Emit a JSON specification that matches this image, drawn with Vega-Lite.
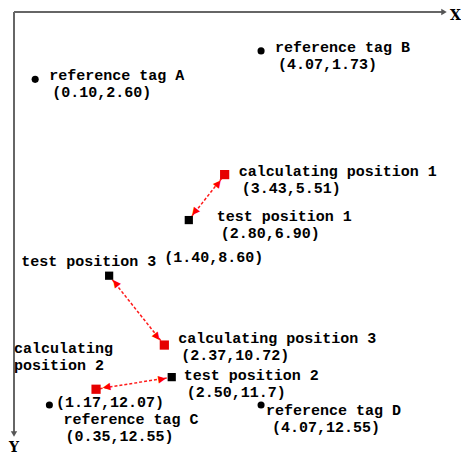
{
  "$schema": "https://vega.github.io/schema/vega-lite/v6.json",
  "width": 430,
  "height": 422,
  "autosize": {"type": "none"},
  "padding": {"left": 14, "top": 12, "right": 17, "bottom": 25},
  "background": "white",
  "config": {"view": {"stroke": null}},
  "datasets": {
    "points": [
      {"id": "A", "name": "reference tag A", "coord": "(0.10,2.60)", "type": "reference", "x": 0.10, "y": 2.60},
      {"id": "B", "name": "reference tag B", "coord": "(4.07,1.73)", "type": "reference", "x": 4.07, "y": 1.73},
      {"id": "C", "name": "reference tag C", "coord": "(0.35,12.55)", "type": "reference", "x": 0.35, "y": 12.55},
      {"id": "D", "name": "reference tag D", "coord": "(4.07,12.55)", "type": "reference", "x": 4.07, "y": 12.55},
      {"id": "T1", "name": "test position 1", "coord": "(2.80,6.90)", "type": "test", "x": 2.80, "y": 6.90},
      {"id": "T2", "name": "test position 2", "coord": "(2.50,11.7)", "type": "test", "x": 2.50, "y": 11.7},
      {"id": "T3", "name": "test position 3", "coord": "(1.40,8.60)", "type": "test", "x": 1.40, "y": 8.60},
      {"id": "C1", "name": "calculating position 1", "coord": "(3.43,5.51)", "type": "calculating", "x": 3.43, "y": 5.51},
      {"id": "C2", "name": "calculating\nposition 2", "coord": "(1.17,12.07)", "type": "calculating", "x": 1.17, "y": 12.07},
      {"id": "C3", "name": "calculating position 3", "coord": "(2.37,10.72)", "type": "calculating", "x": 2.37, "y": 10.72}
    ],
    "arrows": [
      {"pair": 1, "x": 2.80, "y": 6.90, "x2": 3.43, "y2": 5.51},
      {"pair": 2, "x": 2.50, "y": 11.7, "x2": 1.17, "y2": 12.07},
      {"pair": 3, "x": 1.40, "y": 8.60, "x2": 2.37, "y2": 10.72}
    ]
  },
  "layer": [
    {
      "data": {"values": [{}]},
      "mark": {"type": "rule", "color": "#666666", "strokeWidth": 2},
      "encoding": {
        "x": {"datum": -0.272, "type": "quantitative", "scale": {"domain": [-0.272, 7.285], "nice": false, "zero": false}, "axis": null},
        "x2": {"datum": 7.285},
        "y": {"datum": 0.541, "type": "quantitative", "scale": {"domain": [0.541, 13.438], "nice": false, "zero": false, "reverse": true}, "axis": null}
      }
    },
    {
      "data": {"values": [{}]},
      "mark": {"type": "rule", "color": "#666666", "strokeWidth": 2},
      "encoding": {
        "x": {"datum": -0.272, "type": "quantitative", "axis": null},
        "y": {"datum": 0.541, "type": "quantitative", "axis": null},
        "y2": {"datum": 13.438}
      }
    },
    {
      "data": {"values": [{}]},
      "mark": {"type": "point", "shape": "triangle-right", "filled": true, "color": "#555", "size": 40, "opacity": 1},
      "encoding": {
        "x": {"datum": 7.285, "type": "quantitative", "axis": null},
        "y": {"datum": 0.541, "type": "quantitative", "axis": null}
      }
    },
    {
      "data": {"values": [{}]},
      "mark": {"type": "point", "shape": "triangle-down", "filled": true, "color": "#555", "size": 40, "opacity": 1},
      "encoding": {
        "x": {"datum": -0.272, "type": "quantitative", "axis": null},
        "y": {"datum": 13.438, "type": "quantitative", "axis": null}
      }
    },
    {
      "data": {"values": [{"label": "X"}]},
      "mark": {"type": "text", "align": "left", "baseline": "middle", "dx": 6, "dy": 4, "font": "DejaVu Serif", "fontSize": 14, "fontWeight": "bold", "color": "#000"},
      "encoding": {
        "x": {"datum": 7.285, "type": "quantitative", "axis": null},
        "y": {"datum": 0.541, "type": "quantitative", "axis": null},
        "text": {"field": "label"}
      }
    },
    {
      "data": {"values": [{"label": "Y"}]},
      "mark": {"type": "text", "align": "center", "baseline": "middle", "dy": 14, "font": "DejaVu Serif", "fontSize": 14, "fontWeight": "bold", "color": "#000"},
      "encoding": {
        "x": {"datum": -0.272, "type": "quantitative", "axis": null},
        "y": {"datum": 13.438, "type": "quantitative", "axis": null},
        "text": {"field": "label"}
      }
    },
    {
      "data": {"name": "arrows"},
      "mark": {"type": "rule", "color": "#ff1a1a", "strokeWidth": 1.5, "strokeDash": [3, 2]},
      "encoding": {
        "x": {"field": "x", "type": "quantitative", "axis": null},
        "y": {"field": "y", "type": "quantitative", "axis": null},
        "x2": {"field": "x2"},
        "y2": {"field": "y2"}
      }
    },
    {
      "data": {"name": "arrows"},
      "transform": [{"filter": {"field": "pair", "equal": 1}}],
      "mark": {"type": "text", "text": "▶", "font": "DejaVu Sans", "fontSize": 10, "color": "#f00", "align": "right", "baseline": "middle", "angle": 128.3, "dx": -6},
      "encoding": {"x": {"field": "x", "type": "quantitative", "axis": null}, "y": {"field": "y", "type": "quantitative", "axis": null}}
    },
    {
      "data": {"name": "arrows"},
      "transform": [{"filter": {"field": "pair", "equal": 2}}],
      "mark": {"type": "text", "text": "▶", "font": "DejaVu Sans", "fontSize": 10, "color": "#f00", "align": "right", "baseline": "middle", "angle": 350.9, "dx": -6},
      "encoding": {"x": {"field": "x", "type": "quantitative", "axis": null}, "y": {"field": "y", "type": "quantitative", "axis": null}}
    },
    {
      "data": {"name": "arrows"},
      "transform": [{"filter": {"field": "pair", "equal": 3}}],
      "mark": {"type": "text", "text": "▶", "font": "DejaVu Sans", "fontSize": 10, "color": "#f00", "align": "right", "baseline": "middle", "angle": 231.5, "dx": -6},
      "encoding": {"x": {"field": "x", "type": "quantitative", "axis": null}, "y": {"field": "y", "type": "quantitative", "axis": null}}
    },
    {
      "data": {"name": "arrows"},
      "transform": [{"filter": {"field": "pair", "equal": 1}}],
      "mark": {"type": "text", "text": "▶", "font": "DejaVu Sans", "fontSize": 10, "color": "#f00", "align": "right", "baseline": "middle", "angle": 308.3, "dx": -7},
      "encoding": {"x": {"field": "x2", "type": "quantitative", "axis": null}, "y": {"field": "y2", "type": "quantitative", "axis": null}}
    },
    {
      "data": {"name": "arrows"},
      "transform": [{"filter": {"field": "pair", "equal": 2}}],
      "mark": {"type": "text", "text": "▶", "font": "DejaVu Sans", "fontSize": 10, "color": "#f00", "align": "right", "baseline": "middle", "angle": 170.9, "dx": -7},
      "encoding": {"x": {"field": "x2", "type": "quantitative", "axis": null}, "y": {"field": "y2", "type": "quantitative", "axis": null}}
    },
    {
      "data": {"name": "arrows"},
      "transform": [{"filter": {"field": "pair", "equal": 3}}],
      "mark": {"type": "text", "text": "▶", "font": "DejaVu Sans", "fontSize": 10, "color": "#f00", "align": "right", "baseline": "middle", "angle": 51.5, "dx": -7},
      "encoding": {"x": {"field": "x2", "type": "quantitative", "axis": null}, "y": {"field": "y2", "type": "quantitative", "axis": null}}
    },
    {
      "data": {"name": "points"},
      "mark": {"type": "point", "filled": true, "opacity": 1, "strokeWidth": 0},
      "encoding": {
        "x": {"field": "x", "type": "quantitative", "axis": null},
        "y": {"field": "y", "type": "quantitative", "axis": null},
        "shape": {"field": "type", "type": "nominal", "scale": {"domain": ["reference", "test", "calculating"], "range": ["circle", "square", "square"]}, "legend": null},
        "color": {"field": "type", "type": "nominal", "scale": {"domain": ["reference", "test", "calculating"], "range": ["#000000", "#000000", "#e60000"]}, "legend": null},
        "size": {"field": "type", "type": "ordinal", "scale": {"domain": ["reference", "test", "calculating"], "range": [50, 85, 95]}, "legend": null}
      }
    },
    {
      "data": {"name": "points"},
      "transform": [{"filter": {"field": "id", "oneOf": ["A", "B", "C1"]}}],
      "mark": {"type": "text", "align": "left", "baseline": "middle", "dx": 14, "dy": -4, "font": "Liberation Mono", "fontSize": 15, "fontWeight": "bold", "color": "#000"},
      "encoding": {"x": {"field": "x", "type": "quantitative", "axis": null}, "y": {"field": "y", "type": "quantitative", "axis": null}, "text": {"field": "name"}}
    },
    {
      "data": {"name": "points"},
      "transform": [{"filter": {"field": "id", "equal": "C3"}}],
      "mark": {"type": "text", "align": "left", "baseline": "middle", "dx": 14, "dy": -7, "font": "Liberation Mono", "fontSize": 15, "fontWeight": "bold", "color": "#000"},
      "encoding": {"x": {"field": "x", "type": "quantitative", "axis": null}, "y": {"field": "y", "type": "quantitative", "axis": null}, "text": {"field": "name"}}
    },
    {
      "data": {"name": "points"},
      "transform": [{"filter": {"field": "id", "equal": "T2"}}],
      "mark": {"type": "text", "align": "left", "baseline": "middle", "dx": 12, "dy": -2, "font": "Liberation Mono", "fontSize": 15, "fontWeight": "bold", "color": "#000"},
      "encoding": {"x": {"field": "x", "type": "quantitative", "axis": null}, "y": {"field": "y", "type": "quantitative", "axis": null}, "text": {"field": "name"}}
    },
    {
      "data": {"name": "points"},
      "transform": [{"filter": {"field": "id", "equal": "T1"}}],
      "mark": {"type": "text", "align": "left", "baseline": "middle", "dx": 28, "dy": -4, "font": "Liberation Mono", "fontSize": 15, "fontWeight": "bold", "color": "#000"},
      "encoding": {"x": {"field": "x", "type": "quantitative", "axis": null}, "y": {"field": "y", "type": "quantitative", "axis": null}, "text": {"field": "name"}}
    },
    {
      "data": {"name": "points"},
      "transform": [{"filter": {"field": "id", "equal": "T3"}}],
      "mark": {"type": "text", "align": "left", "baseline": "middle", "dx": -88, "dy": -15, "font": "Liberation Mono", "fontSize": 15, "fontWeight": "bold", "color": "#000"},
      "encoding": {"x": {"field": "x", "type": "quantitative", "axis": null}, "y": {"field": "y", "type": "quantitative", "axis": null}, "text": {"field": "name"}}
    },
    {
      "data": {"name": "points"},
      "transform": [{"filter": {"field": "id", "equal": "C2"}}],
      "mark": {"type": "text", "align": "left", "baseline": "middle", "dx": -82, "dy": -41, "lineBreak": "\n", "lineHeight": 17, "font": "Liberation Mono", "fontSize": 15, "fontWeight": "bold", "color": "#000"},
      "encoding": {"x": {"field": "x", "type": "quantitative", "axis": null}, "y": {"field": "y", "type": "quantitative", "axis": null}, "text": {"field": "name"}}
    },
    {
      "data": {"name": "points"},
      "transform": [{"filter": {"field": "id", "equal": "C"}}],
      "mark": {"type": "text", "align": "left", "baseline": "middle", "dx": 14, "dy": 14, "font": "Liberation Mono", "fontSize": 15, "fontWeight": "bold", "color": "#000"},
      "encoding": {"x": {"field": "x", "type": "quantitative", "axis": null}, "y": {"field": "y", "type": "quantitative", "axis": null}, "text": {"field": "name"}}
    },
    {
      "data": {"name": "points"},
      "transform": [{"filter": {"field": "id", "equal": "D"}}],
      "mark": {"type": "text", "align": "left", "baseline": "middle", "dx": 5, "dy": 5, "font": "Liberation Mono", "fontSize": 15, "fontWeight": "bold", "color": "#000"},
      "encoding": {"x": {"field": "x", "type": "quantitative", "axis": null}, "y": {"field": "y", "type": "quantitative", "axis": null}, "text": {"field": "name"}}
    },
    {
      "data": {"name": "points"},
      "transform": [{"filter": {"field": "id", "oneOf": ["A", "B", "C1"]}}],
      "mark": {"type": "text", "align": "left", "baseline": "middle", "dx": 17, "dy": 13, "font": "Liberation Mono", "fontSize": 15, "fontWeight": "bold", "color": "#000"},
      "encoding": {"x": {"field": "x", "type": "quantitative", "axis": null}, "y": {"field": "y", "type": "quantitative", "axis": null}, "text": {"field": "coord"}}
    },
    {
      "data": {"name": "points"},
      "transform": [{"filter": {"field": "id", "equal": "C3"}}],
      "mark": {"type": "text", "align": "left", "baseline": "middle", "dx": 17, "dy": 10, "font": "Liberation Mono", "fontSize": 15, "fontWeight": "bold", "color": "#000"},
      "encoding": {"x": {"field": "x", "type": "quantitative", "axis": null}, "y": {"field": "y", "type": "quantitative", "axis": null}, "text": {"field": "coord"}}
    },
    {
      "data": {"name": "points"},
      "transform": [{"filter": {"field": "id", "equal": "T2"}}],
      "mark": {"type": "text", "align": "left", "baseline": "middle", "dx": 15, "dy": 15, "font": "Liberation Mono", "fontSize": 15, "fontWeight": "bold", "color": "#000"},
      "encoding": {"x": {"field": "x", "type": "quantitative", "axis": null}, "y": {"field": "y", "type": "quantitative", "axis": null}, "text": {"field": "coord"}}
    },
    {
      "data": {"name": "points"},
      "transform": [{"filter": {"field": "id", "equal": "T1"}}],
      "mark": {"type": "text", "align": "left", "baseline": "middle", "dx": 32, "dy": 13, "font": "Liberation Mono", "fontSize": 15, "fontWeight": "bold", "color": "#000"},
      "encoding": {"x": {"field": "x", "type": "quantitative", "axis": null}, "y": {"field": "y", "type": "quantitative", "axis": null}, "text": {"field": "coord"}}
    },
    {
      "data": {"name": "points"},
      "transform": [{"filter": {"field": "id", "equal": "T3"}}],
      "mark": {"type": "text", "align": "left", "baseline": "middle", "dx": 55, "dy": -19, "font": "Liberation Mono", "fontSize": 15, "fontWeight": "bold", "color": "#000"},
      "encoding": {"x": {"field": "x", "type": "quantitative", "axis": null}, "y": {"field": "y", "type": "quantitative", "axis": null}, "text": {"field": "coord"}}
    },
    {
      "data": {"name": "points"},
      "transform": [{"filter": {"field": "id", "equal": "C2"}}],
      "mark": {"type": "text", "align": "left", "baseline": "middle", "dx": -40, "dy": 13, "font": "Liberation Mono", "fontSize": 15, "fontWeight": "bold", "color": "#000"},
      "encoding": {"x": {"field": "x", "type": "quantitative", "axis": null}, "y": {"field": "y", "type": "quantitative", "axis": null}, "text": {"field": "coord"}}
    },
    {
      "data": {"name": "points"},
      "transform": [{"filter": {"field": "id", "equal": "C"}}],
      "mark": {"type": "text", "align": "left", "baseline": "middle", "dx": 16, "dy": 31, "font": "Liberation Mono", "fontSize": 15, "fontWeight": "bold", "color": "#000"},
      "encoding": {"x": {"field": "x", "type": "quantitative", "axis": null}, "y": {"field": "y", "type": "quantitative", "axis": null}, "text": {"field": "coord"}}
    },
    {
      "data": {"name": "points"},
      "transform": [{"filter": {"field": "id", "equal": "D"}}],
      "mark": {"type": "text", "align": "left", "baseline": "middle", "dx": 11, "dy": 22, "font": "Liberation Mono", "fontSize": 15, "fontWeight": "bold", "color": "#000"},
      "encoding": {"x": {"field": "x", "type": "quantitative", "axis": null}, "y": {"field": "y", "type": "quantitative", "axis": null}, "text": {"field": "coord"}}
    }
  ]
}
